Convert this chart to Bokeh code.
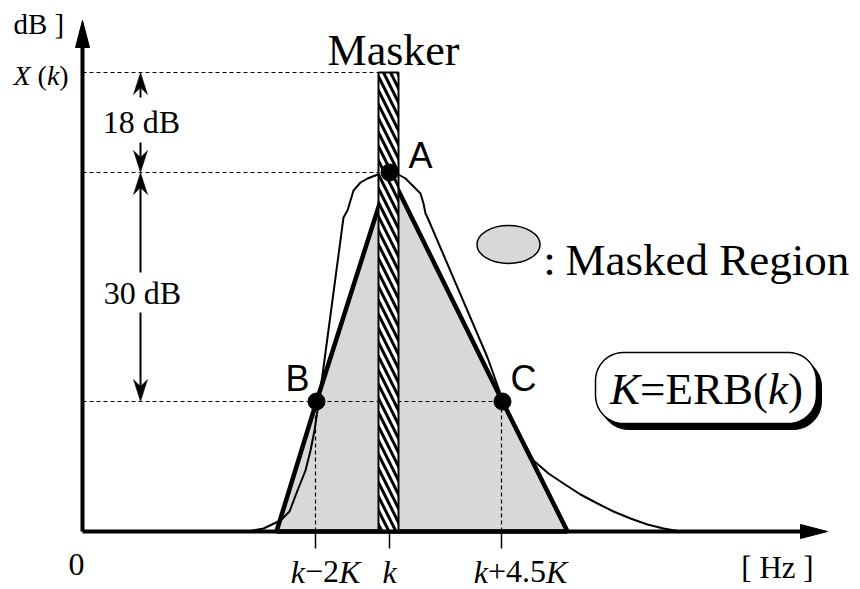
import numpy as np
from bokeh.plotting import figure
from bokeh.models import Range1d
from bokeh.core.properties import value
from bokeh.embed import file_html
from bokeh.resources import INLINE

# ---------------- data (diagram units: x = frequency position, y = level above the x axis) -------------
x_axis_end = 745          # tip of frequency axis
y_axis_end = 511          # tip of level axis
tick_x = [233, 307, 419]
tick_labels = [[("k", 1), ("\u22122", 0), ("K", 1)], [("k", 1)], [("k", 1), ("+4.5", 0), ("K", 1)]]
zero_label = "0"
x_unit = "[ Hz ]"
y_unit = "dB ]"
masker_label = "Masker"
masker_center = 306
masker_width = 20
Xk_level = 459
A_level = 359
BC_level = 130
point_names = ["A", "B", "C"]
point_x = [307, 234, 420]
point_y = [A_level, BC_level, BC_level]
region_x = [194, 234, 307, 420, 485]
region_y = [0, BC_level, A_level, BC_level, 0]
curve_x = [165, 181, 198, 207, 215, 223, 228, 232, 235, 241, 261, 265, 271, 278, 285, 298, 308,
           316, 323, 330, 338, 341, 343, 345, 405, 415, 425, 436, 451, 466, 481, 498, 515, 531,
           548, 565, 581, 598, 630]
curve_y = [0, 3, 11, 20, 41, 61, 81, 101, 121, 164, 314, 321, 341, 349, 353, 358, 359,
           357, 353, 346, 338, 328, 318, 314, 174, 146, 118, 99, 71, 58, 48, 37, 28, 20,
           13, 7, 3, 0, 0]
dim_labels = ["18 dB", "30 dB"]
legend_label = "Masked Region"
erb_parts = [("K", 1), ("=ERB(", 0), ("k", 1), (")", 0)]
xk_parts = [("X", 1), (" (", 0), ("k", 1), (")", 0)]

GRAY = "#d8d8d8"
SERIF = value("Liberation Serif")
SANS = value("Liberation Sans")
BASE_SHIFT = 0.34   # renderer places "alphabetic" text about this many em too low

p = figure(width=860, height=589, x_range=Range1d(-82, 778), y_range=Range1d(-58, 531),
           output_backend="svg", toolbar_location=None, min_border=0,
           x_axis_type=None, y_axis_type=None)
p.outline_line_color = None
p.background_fill_color = "white"
p.border_fill_color = "white"

# width table (em) for Times-like serif
W_REG = {'0': .5, '1': .5, '2': .5, '3': .5, '4': .5, '5': .5, '8': .5, '.': .25, '+': .564,
         '\u2212': .564, '=': .564, 'E': .611, 'R': .667, 'B': .667, '(': .333, ')': .333,
         ' ': .25, 'd': .5, ']': .333, '[': .333, 'H': .722, 'z': .444}
W_IT = {'k': .444, 'K': .667, 'X': .611}


def run_width(parts, size):
    tot = 0
    for t, it in parts:
        tab = W_IT if it else W_REG
        tot += sum(tab.get(c, .5) for c in t) * size
    return tot


def txt(x, y, s, size, font=SERIF, align="left", style="normal"):
    p.text(x=[x], y=[y + BASE_SHIFT * size], text=[s], text_font=font,
           text_font_size=f"{size}px", text_font_style=style, text_align=align,
           text_baseline="alphabetic", text_color="black")


def draw_runs(x, y, parts, size, align="left"):
    w = run_width(parts, size)
    if align == "center":
        x = x - w / 2
    for t, it in parts:
        lead = len(t) - len(t.lstrip(" "))
        x += lead * W_REG[' '] * size
        core = t.strip(" ")
        txt(x, y, core, size, style="italic" if it else "normal")
        x += run_width([(core, it)], size)


def head(tip, d, L, Wd, notch=0.0):
    d = np.array(d, float)
    n = np.array([-d[1], d[0]])
    t = np.array(tip, float)
    pts = [t, t - L * d + Wd * n, t - (L - notch) * d, t - L * d - Wd * n]
    return [q[0] for q in pts], [q[1] for q in pts]


def rounded(cx, cy, w, h, r, n=12):
    xs, ys = [], []
    corners = [(cx + w / 2 - r, cy + h / 2 - r, 0), (cx - w / 2 + r, cy + h / 2 - r, 90),
               (cx - w / 2 + r, cy - h / 2 + r, 180), (cx + w / 2 - r, cy - h / 2 + r, 270)]
    for ox, oy, a0 in corners:
        a = np.radians(np.linspace(a0, a0 + 90, n))
        xs += list(ox + r * np.cos(a))
        ys += list(oy + r * np.sin(a))
    return xs, ys


# masked region fill
p.patch(region_x, region_y, fill_color=GRAY, line_color=None)

# dashed guide lines
dash = dict(line_color="black", line_width=1.2, line_dash="4 3")
p.line([0, masker_center - masker_width / 2], [Xk_level, Xk_level], **dash)
p.line([0, point_x[0]], [A_level, A_level], **dash)
p.line([0, point_x[2]], [BC_level, BC_level], **dash)
p.line([tick_x[0], tick_x[0]], [0, BC_level], **dash)
p.line([tick_x[2], tick_x[2]], [0, BC_level], **dash)

# ticks
for tx in tick_x:
    p.line([tx, tx], [0, -17], line_color="black", line_width=1.5)

# actual masking curve
p.line(curve_x, curve_y, line_color="black", line_width=2)

# triangle approximation
p.line(region_x, region_y, line_color="black", line_width=4.5, line_join="miter")
p.line([region_x[0], region_x[-1]], [0, 0], line_color="black", line_width=4.5)

# masker bar
p.quad(left=[masker_center - masker_width / 2], right=[masker_center + masker_width / 2],
       bottom=[0], top=[Xk_level], fill_color="white", hatch_pattern="left_diagonal_line",
       hatch_color="black", hatch_scale=14, hatch_weight=3, line_color="black", line_width=2)

# axes
p.line([0, 0], [0, y_axis_end - 20], line_color="black", line_width=4)
p.line([0, x_axis_end - 20], [0, 0], line_color="black", line_width=4)
hx, hy = head((0, y_axis_end), (0, 1), 27, 7)
p.patch(hx, hy, fill_color="black", line_color="black")
hx, hy = head((x_axis_end, 0), (1, 0), 27, 7)
p.patch(hx, hy, fill_color="black", line_color="black")

# points
p.scatter(point_x, point_y, size=17, color="black")

# dimension arrows
dim_x = 58
arrows = [(Xk_level, 1, 25), (A_level, -1, 30), (A_level, 1, 100), (BC_level, -1, 89)]
for tip_level, sign, length in arrows:
    tail = tip_level - sign * length
    p.line([dim_x, dim_x], [tail, tip_level - sign * 8], line_color="black", line_width=2)
    hx, hy = head((dim_x, tip_level), (0, sign), 22, 7, notch=7)
    p.patch(hx, hy, fill_color="black", line_color="black", line_width=0.5)

txt(dim_x + 1, 399, dim_labels[0], 32, align="center")
txt(dim_x + 2, 228, dim_labels[1], 32, align="center")

# point labels
for name, lx, ly in zip(point_names, [338, 215, 441], [364, 141, 141]):
    txt(lx, ly, name, 36, font=SANS, align="center")

# masker label
txt(311, 466, masker_label, 44, align="center")

# axis labels
txt(-69, 498, y_unit, 29)
draw_runs(-69, 446, xk_parts, 28)
txt(-6, -44, zero_label, 32, align="center")
txt(695, -47, x_unit, 31, align="center")
label_centers = [243, 307, 438]
for cx, parts in zip(label_centers, tick_labels):
    draw_runs(cx, -51, parts, 32, align="center")

# legend
p.ellipse(x=[426], y=[287], width=[63], height=[38], fill_color=GRAY, line_color="black",
          line_width=1.5)
txt(467, 256, ":", 45, align="center")
txt(483, 256, legend_label, 45)

# K = ERB(k) box with shadow
bx, by = rounded(628.5, 137.5, 221, 71, 28)
p.patch(bx, by, fill_color="black", line_color="black")
bx, by = rounded(623.5, 143.5, 221, 71, 28)
p.patch(bx, by, fill_color="white", line_color="black", line_width=1.5)
draw_runs(624, 127, erb_parts, 45, align="center")

open("out.html", "w").write(file_html(p, INLINE))
